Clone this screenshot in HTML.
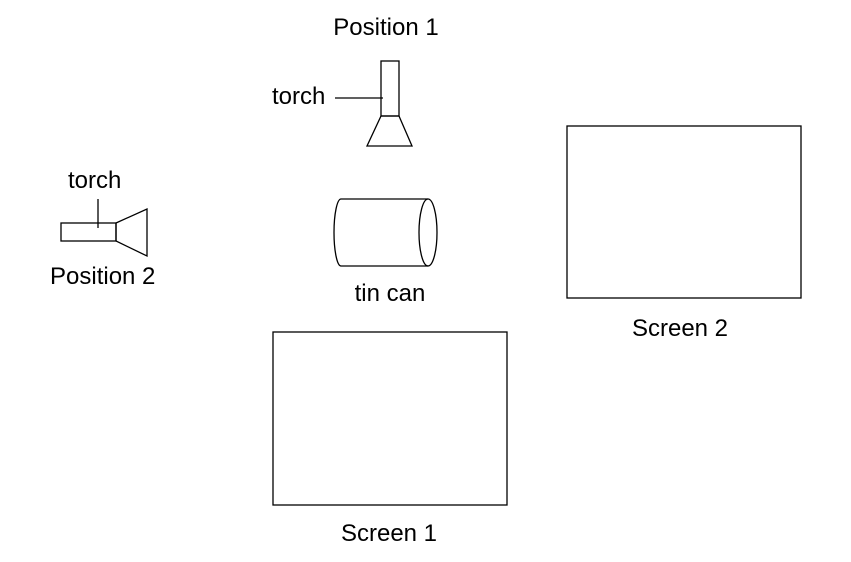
<!DOCTYPE html>
<html><head><meta charset="utf-8"><style>html,body{margin:0;padding:0;background:#fff}svg{display:block}text{font-family:"Liberation Sans",sans-serif;font-size:24px;fill:#000}</style></head>
<body>
<svg width="851" height="562" viewBox="0 0 851 562" fill="none" stroke="#000" stroke-width="1.3">
<g>
<rect x="381" y="61" width="18" height="55"/>
<polygon points="381,116 399,116 412,146 367,146"/>
<line x1="335" y1="98" x2="383" y2="98"/>
</g>
<text x="386" y="35" text-anchor="middle" stroke="none">Position 1</text>
<text x="272" y="104" stroke="none">torch</text>
<g>
<rect x="61" y="223" width="55" height="18"/>
<polygon points="116,223 147,209 147,256 116,241"/>
<line x1="98" y1="199" x2="98" y2="228"/>
</g>
<text x="68" y="188" stroke="none">torch</text>
<text x="50" y="284" stroke="none">Position 2</text>
<g>
<path d="M341,199 L428,199 M341,266 L428,266 M341,199 A7,33.5 0 0 0 341,266"/>
<ellipse cx="428" cy="232.5" rx="9" ry="33.5"/>
</g>
<text x="390" y="301" text-anchor="middle" stroke="none">tin can</text>
<rect x="567" y="126" width="234" height="172"/>
<text x="680" y="336" text-anchor="middle" stroke="none">Screen 2</text>
<rect x="273" y="332" width="234" height="173"/>
<text x="389" y="541" text-anchor="middle" stroke="none">Screen 1</text>
</svg>
</body></html>
